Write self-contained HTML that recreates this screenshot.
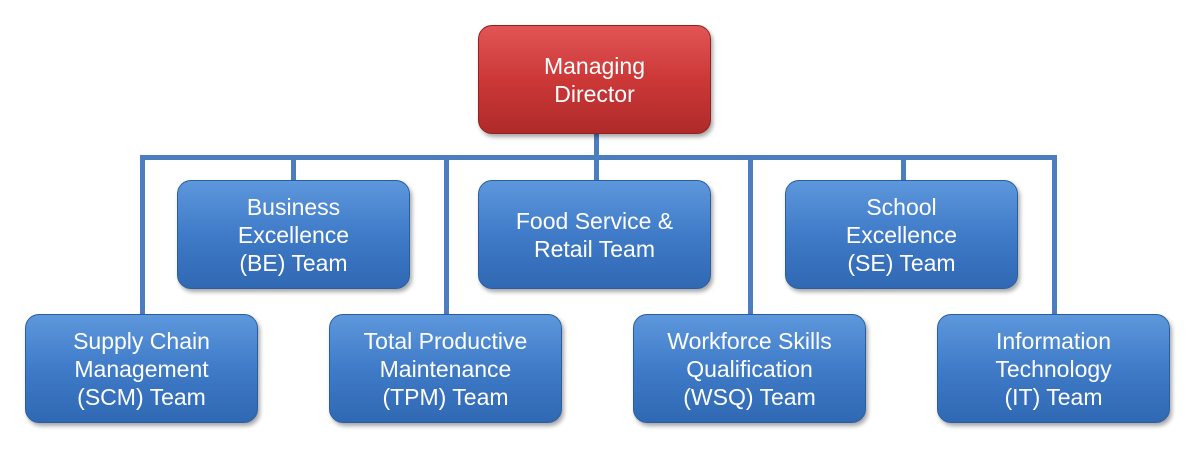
<!DOCTYPE html>
<html><head><style>
body{margin:0;width:1190px;height:450px;background:#fff;position:relative;overflow:hidden;font-family:"Liberation Sans",sans-serif}
.b{position:absolute;width:233px;height:109px;border-radius:14px;display:flex;align-items:center;justify-content:center;text-align:center;color:#fff;font-size:23px;line-height:28px;box-sizing:border-box;
background:linear-gradient(#5d97dc,#3f7bc8 50%,#3068b3);border:1px solid #2d5d9e;box-shadow:2px 3px 4px rgba(0,0,0,.35)}
.r{background:linear-gradient(#e25555,#cc3838 50%,#b02a2a);border-color:#8f2222}
.l{position:absolute;background:#4a7ebf}
</style></head><body>
<div class="l" style="left:140px;top:155px;width:917px;height:5px"></div>
<div class="l" style="left:594px;top:130px;width:5px;height:52px"></div>
<div class="l" style="left:291px;top:155px;width:5px;height:27px"></div>
<div class="l" style="left:901px;top:155px;width:5px;height:27px"></div>
<div class="l" style="left:140px;top:155px;width:5px;height:161px"></div>
<div class="l" style="left:444px;top:155px;width:5px;height:161px"></div>
<div class="l" style="left:748px;top:155px;width:5px;height:161px"></div>
<div class="l" style="left:1052px;top:155px;width:5px;height:161px"></div>
<div class="b r" style="left:478px;top:25px">Managing<br>Director</div>
<div class="b" style="left:177px;top:180px">Business<br>Excellence<br>(BE) Team</div>
<div class="b" style="left:478px;top:180px">Food Service &amp;<br>Retail Team</div>
<div class="b" style="left:785px;top:180px">School<br>Excellence<br>(SE) Team</div>
<div class="b" style="left:25px;top:314px">Supply Chain<br>Management<br>(SCM) Team</div>
<div class="b" style="left:329px;top:314px">Total Productive<br>Maintenance<br>(TPM) Team</div>
<div class="b" style="left:633px;top:314px">Workforce Skills<br>Qualification<br>(WSQ) Team</div>
<div class="b" style="left:937px;top:314px">Information<br>Technology<br>(IT) Team</div>
</body></html>
